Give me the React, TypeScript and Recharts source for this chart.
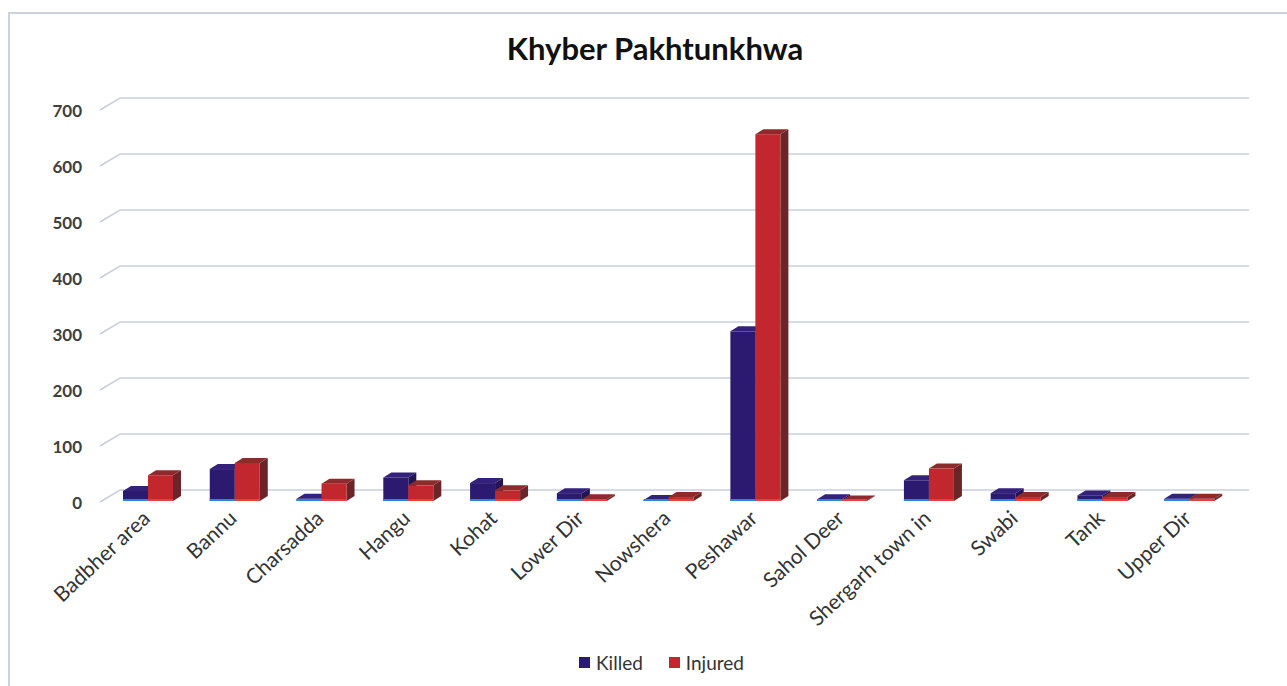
import { BarChart, Bar, XAxis, YAxis, CartesianGrid, Legend } from 'recharts'

const districts = [
  'Badbher area',
  'Bannu',
  'Charsadda',
  'Hangu',
  'Kohat',
  'Lower Dir',
  'Nowshera',
  'Peshawar',
  'Sahol Deer',
  'Shergarh town in',
  'Swabi',
  'Tank',
  'Upper Dir',
]
const killed = [18, 57, 4, 42, 32, 14, 2, 303, 3, 37, 14, 10, 4]
const injured = [46, 68, 31, 28, 19, 3, 7, 655, 1, 58, 7, 7, 4]
const yTicks = [0, 100, 200, 300, 400, 500, 600, 700]

const data = districts.map((name, i) => ({ name, killed: killed[i], injured: injured[i] }))

const FONT = 'Lato, "Open Sans", sans-serif'
const DX = 8
const DY = 5

const colors = {
  killed: { front: '#2c1a70', top: '#33217a', side: '#221455', edge: '#2a86d8' },
  injured: { front: '#c1272d', top: '#8e2a2c', side: '#6b2529', edge: '#e8403f' },
}

function makeShape(c: typeof colors.killed) {
  return (props: any) => {
    const { x, y, width, height } = props
    if (x == null || y == null) return <g />
    const w = width
    const h = Math.max(height, 0)
    return (
      <g>
        <polygon
          points={`${x + w},${y} ${x + w + DX},${y - DY} ${x + w + DX},${y + h - DY} ${x + w},${y + h}`}
          fill={c.side}
        />
        <polygon
          points={`${x},${y} ${x + DX},${y - DY} ${x + w + DX},${y - DY} ${x + w},${y}`}
          fill={c.top}
        />
        <rect x={x} y={y} width={w} height={h} fill={c.front} />
        <line x1={x} y1={y + h - 1} x2={x + w} y2={y + h - 1} stroke={c.edge} strokeWidth={2} />
      </g>
    )
  }
}

const gridLine = (props: any) => {
  const { x1, x2, y1, key } = props
  return (
    <path
      key={key}
      d={`M${x1 - 5},${y1 + 1} L${x1 + 15},${y1 - 11} L${x2 + 16},${y1 - 11}`}
      fill="none"
      stroke="#c9d0dd"
      strokeWidth={1.6}
    />
  )
}

const YTick = (props: any) => {
  const { x, y, payload } = props
  return (
    <text x={x} y={y + 8} textAnchor="end" fontSize={17} fontWeight={700} fill="#404040" fontFamily={FONT}>
      {payload.value}
    </text>
  )
}

const XTick = (props: any) => {
  const { x, y, payload } = props
  return (
    <text
      transform={`translate(${x + 3},${y + 19}) rotate(-43)`}
      textAnchor="end"
      fontSize={21}
      fill="#333"
      fontFamily={FONT}
    >
      {payload.value}
    </text>
  )
}

const renderLegend = () => (
  <div style={{ display: 'flex', justifyContent: 'center', gap: 26, fontFamily: FONT, fontSize: 19, color: '#333', paddingLeft: 36 }}>
    {[
      { label: 'Killed', color: colors.killed.front },
      { label: 'Injured', color: colors.injured.front },
    ].map((it) => (
      <span key={it.label} style={{ display: 'flex', alignItems: 'center', gap: 6 }}>
        <span style={{ width: 11, height: 11, background: it.color, display: 'inline-block' }} />
        {it.label}
      </span>
    ))}
  </div>
)

export default function App() {
  return (
    <div style={{ position: 'absolute', left: 0, top: 0, width: 1287, height: 686, background: '#fff', overflow: 'hidden' }}>
      <div
        style={{
          position: 'absolute',
          left: 8,
          top: 12,
          width: 1300,
          height: 700,
          border: '2px solid #cdd3de',
        }}
      />
      <div
        style={{
          position: 'absolute',
          left: 0,
          width: 1310,
          top: 29,
          textAlign: 'center',
          fontFamily: FONT,
          fontWeight: 700,
          fontSize: 31,
          color: '#111',
        }}
      >
        Khyber Pakhtunkhwa
      </div>
      <div style={{ position: 'absolute', left: 0, top: 0 }}>
        <BarChart
          width={1287}
          height={686}
          data={data}
          margin={{ top: 109, right: 54, left: 25, bottom: 62 }}
          barGap={0}
          barSize={25}
        >
          <CartesianGrid vertical={false} horizontal={gridLine} />
          <XAxis dataKey="name" axisLine={false} tickLine={false} tickSize={0} tickMargin={0} height={100} interval={0} tick={<XTick />} />
          <YAxis
            domain={[0, 700]}
            ticks={yTicks}
            axisLine={false}
            tickLine={false}
            tickSize={0}
            tickMargin={23}
            width={80}
            tick={<YTick />}
          />
          <Legend verticalAlign="bottom" content={renderLegend} wrapperStyle={{ bottom: 12, left: 0, width: 1287 }} />
          <Bar dataKey="killed" name="Killed" fill={colors.killed.front} shape={makeShape(colors.killed)} isAnimationActive={false} />
          <Bar dataKey="injured" name="Injured" fill={colors.injured.front} shape={makeShape(colors.injured)} isAnimationActive={false} />
        </BarChart>
      </div>
    </div>
  )
}
